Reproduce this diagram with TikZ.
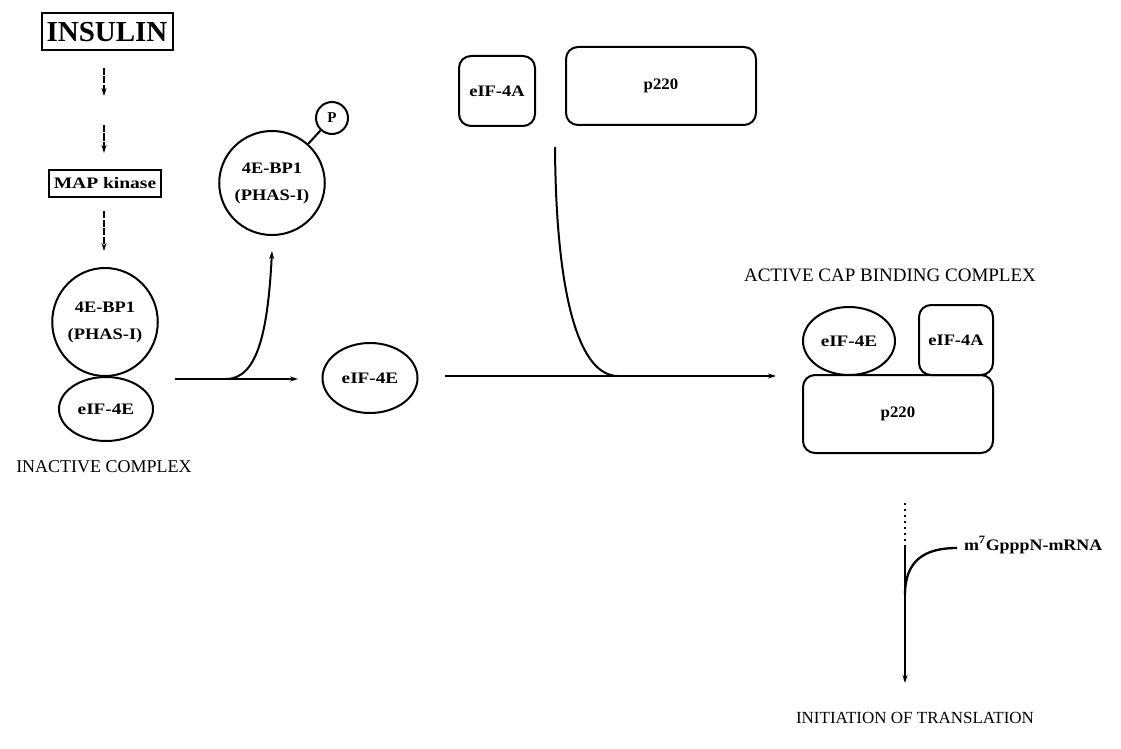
\documentclass[tikz,border=0pt]{standalone}
\usepackage{fontspec}
\usepackage{graphicx}
\setmainfont{Liberation Serif}
\usetikzlibrary{shapes.geometric,arrows.meta}
\newcommand{\sx}[2]{\scalebox{#1}[1]{#2}}
\begin{document}
\begin{tikzpicture}[x=1pt,y=-1pt,
  line width=2pt,
  lbl/.style={font=\fontsize{16}{27}\selectfont\bfseries,align=center},
  oval/.style={draw,ellipse,inner sep=0pt,lbl},
  rbox/.style={draw,rectangle,rounded corners=12pt,inner sep=0pt,lbl},
  arr/.style={-{Stealth[length=8pt,width=5pt]},line width=2.3pt},
  dsh/.style={arr,line width=1.8pt,dash pattern=on 7pt off 1.5pt},
  capt/.style={font=\fontsize{18}{20}\selectfont,inner sep=0pt}
]
\useasboundingbox (0,0) rectangle (1121,749);

% left column
\node[draw,rectangle,line width=2pt,minimum width=131pt,minimum height=37pt,inner sep=0pt,
      font=\fontsize{29}{30}\selectfont\bfseries] (ins) at (107,32) {INSULIN};
\node[draw,rectangle,line width=2pt,minimum width=112pt,minimum height=27pt,inner sep=0pt,lbl]
      (map) at (105,183) {\sx{1.22}{MAP kinase}};
\coordinate (d1a) at (104,68);  \coordinate (d1b) at (104,96);
\coordinate (d2a) at (104,125); \coordinate (d2b) at (104,153);
\coordinate (d3a) at (104,211); \coordinate (d3b) at (104,251);
\draw[dsh] (d1a) -- (d1b);
\draw[dsh] (d2a) -- (d2b);
\draw[dsh] (d3a) -- (d3b);

% inactive complex
\node[oval,minimum width=100pt,minimum height=108pt] (bp0) at (105,322)
   {\sx{1.15}{4E-BP1}\\\sx{1.15}{(PHAS-I)}};
\node[oval,minimum width=94pt,minimum height=64pt] (e0) at (106,409) {\sx{1.2}{eIF-4E}};
\node[capt] (inact) at (104,467) {INACTIVE COMPLEX};

% dissociation
\coordinate (h1a) at (175,379); \coordinate (h1b) at (298,379);
\coordinate (br1) at (226,379); \coordinate (up1) at (272,251);
\draw[arr] (h1a) -- (h1b);
\draw[arr,line width=2pt] (br1) .. controls (258,379) and (268,330) .. (up1);

% phosphorylated 4E-BP1
\node[oval,minimum width=97pt,minimum height=104pt] (bp1) at (272,183)
   {\sx{1.15}{4E-BP1}\\\sx{1.15}{(PHAS-I)}};
\node[draw,circle,minimum size=32pt,inner sep=0pt,font=\fontsize{15}{16}\selectfont\bfseries]
   (P) at (332,118) {P};
\draw (bp1) -- (P);

% free eIF-4E
\node[oval,minimum width=95pt,minimum height=70pt] (e1) at (370,378) {\sx{1.2}{eIF-4E}};

% eIF-4A and p220
\node[rbox,minimum width=76pt,minimum height=70pt] (a1) at (497,91) {\sx{1.15}{eIF-4A}};
\node[rbox,minimum width=190pt,minimum height=78pt] (p1) at (661,86) {\sx{1.05}{p220}};

% assembly arrow
\coordinate (h2a) at (445,376); \coordinate (h2b) at (776,376);
\coordinate (c2a) at (555,147); \coordinate (c2b) at (618,376);
\draw[arr] (h2a) -- (h2b);
\draw (c2a) .. controls (556,300) and (580,376) .. (c2b);

% active complex
\node[capt,font=\fontsize{19}{21}\selectfont] (act) at (890,275) {ACTIVE CAP BINDING COMPLEX};
\node[oval,minimum width=92pt,minimum height=68pt] (e2) at (849,341) {\sx{1.2}{eIF-4E}};
\node[rbox,minimum width=74pt,minimum height=70pt] (a2) at (956,340) {\sx{1.15}{eIF-4A}};
\node[rbox,minimum width=190pt,minimum height=78pt] (p2) at (898,414) {\sx{1.05}{p220}};

% translation
\coordinate (v0) at (905,503); \coordinate (v1) at (905,545);
\coordinate (v2) at (905,683); \coordinate (mr) at (957,548);
\coordinate (vj) at (905,595);
\draw[line width=1.6pt,dash pattern=on 2pt off 4pt] (v0) -- (v1);
\draw[arr] (v1) -- (v2);
\draw[line width=2.3pt] (mr) .. controls (925,548) and (905,560) .. (vj);
\node[anchor=west,inner sep=0pt,font=\fontsize{16}{18}\selectfont\bfseries] (mrna) at (963,545)
   {\sx{1.12}{m\textsuperscript{7}GpppN-mRNA}};
\node[capt,font=\fontsize{17}{19}\selectfont] (init) at (915,718) {INITIATION OF TRANSLATION};
\end{tikzpicture}
\end{document}
